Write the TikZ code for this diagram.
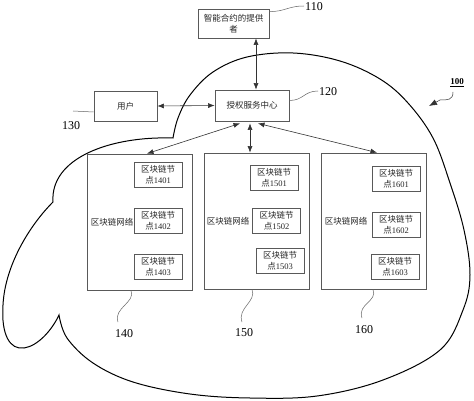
\documentclass[tikz,border=0pt]{standalone}
\usepackage{fontspec}
\setmainfont{Liberation Serif}
\newfontfamily\cjk{Noto Sans CJK SC}
\newcommand\zhs[1]{{\cjk #1}}
\usetikzlibrary{arrows.meta,calc}
\begin{document}
\begin{tikzpicture}[x=1pt,y=-1pt,
  box/.style={draw=black!65, line width=0.8pt, inner sep=0pt, align=center,
    font=\fontsize{8.5}{11}\selectfont, text=black!85},
  netbox/.style={draw=black!65, line width=0.8pt, minimum width=105pt, minimum height=136pt},
  bc/.style={box, minimum width=48pt, minimum height=25pt},
  conn/.style={draw=black!80, line width=0.6pt, {Latex[length=6.5pt,width=5pt]}-{Latex[length=6.5pt,width=5pt]}},
  lead/.style={draw=black!60, line width=0.5pt},
  lbl/.style={font=\fontsize{12}{12}\selectfont, inner sep=0pt},
  cloudline/.style={draw=black, line width=1pt}]
\useasboundingbox (0,0) rectangle (474,401);
\fill[white] (0,0) rectangle (474,401);

% cloud outline
\draw[cloudline] plot[smooth, tension=0.6] coordinates {(59,315) (67,338) (93,363) (133,382) (190,394) (250,398) (317,396) (383,380) (440,350) (463,310) (470,275) (464,230) (450,183) (433,138) (408,103) (380,79) (340,61) (293,53) (247,57) (213,72) (190,95) (178,118) (173,138)}
  .. controls (110,136) and (50,158) .. (53,202)
  .. controls (30,225) and (5,265) .. (3,305)
  .. controls (1,335) and (10,350) .. (24,348)
  .. controls (38,346) and (52,330) .. (59,315) -- cycle;

% top boxes
\node[box, minimum width=71pt, minimum height=29pt] (n110) at (233.5,23.5) {\zhs{智能合约的提供}\\\zhs{者}};
\node[box, minimum width=74pt, minimum height=31pt] (n120) at (252,105.5) {\zhs{授权服务中心}};
\node[box, minimum width=63pt, minimum height=30pt] (n130) at (125.5,106) {\zhs{用户}};

% networks
\node[netbox] (n140) at (139.5,222) {};
\node[netbox] (n150) at (256.5,221) {};
\node[netbox] (n160) at (373.5,221) {};
\node[box, draw=none] (t140) at (112,222) {\zhs{区块链网络}};
\node[box, draw=none] (t150) at (228,221) {\zhs{区块链网络}};
\node[box, draw=none] (t160) at (346,221) {\zhs{区块链网络}};

\node[bc] (n1401) at (158,175) {\zhs{区块链节}\\\zhs{点}1401};
\node[bc] (n1402) at (158,220.5) {\zhs{区块链节}\\\zhs{点}1402};
\node[bc] (n1403) at (158,267) {\zhs{区块链节}\\\zhs{点}1403};
\node[bc] (n1501) at (274,178) {\zhs{区块链节}\\\zhs{点}1501};
\node[bc] (n1502) at (276.5,220.5) {\zhs{区块链节}\\\zhs{点}1502};
\node[bc] (n1503) at (280,260.5) {\zhs{区块链节}\\\zhs{点}1503};
\node[bc] (n1601) at (396,178.5) {\zhs{区块链节}\\\zhs{点}1601};
\node[bc] (n1602) at (396,224.5) {\zhs{区块链节}\\\zhs{点}1602};
\node[bc] (n1603) at (395,267) {\zhs{区块链节}\\\zhs{点}1603};

% connectors
\coordinate (a120) at ([xshift=4pt]n120.north);
\draw[conn] (n110.south -| a120) -- (a120);
\draw[conn] (n130.east) -- (n120.west);
\draw[conn] ([xshift=-12pt,yshift=-2pt]n120.south) -- ([xshift=7.5pt]n140.north);
\draw[conn] ([xshift=-2pt,yshift=-2pt]n120.south) -- ([xshift=-6.5pt]n150.north);
\draw[conn] ([xshift=6pt,yshift=-2pt]n120.south) -- ([xshift=3.5pt]n160.north);

% labels
\node[lbl] (l110) at (314,7) {110};
\node[lbl] (l120) at (328,92) {120};
\node[lbl] (l130) at (71,126) {130};
\node[lbl] (l140) at (124,334) {140};
\node[lbl] (l150) at (244,333) {150};
\node[lbl] (l160) at (364,330) {160};
\node[font=\fontsize{9}{9}\selectfont\bfseries, inner sep=0pt] (l100) at (457,83) {\underline{100}};

% leader lines
\coordinate (e110) at (304,6);
\coordinate (e120) at (318,91);
\coordinate (e130) at (73,111);
\coordinate (e140) at (118,322);
\coordinate (e150) at (242,322);
\coordinate (e160) at (362,318);
\draw[lead] ([yshift=-3pt]n110.north east) .. controls +(16,0) and +(-16,0) .. (e110);
\draw[lead] ([yshift=5pt]n120.east) .. controls +(14,0) and +(-14,0) .. (e120);
\draw[lead] ([yshift=-6pt]n130.west) .. controls +(-10,0) and +(10,0) .. (e130);
\draw[lead] ([xshift=-8.5pt]n140.south) .. controls +(5,12) and +(-5,-14) .. (e140);
\draw[lead] ([xshift=-4.5pt]n150.south) .. controls +(5,12) and +(-5,-14) .. (e150);
\draw[lead] ([xshift=-0.5pt]n160.south) .. controls +(5,12) and +(-5,-14) .. (e160);
\coordinate (s100) at (453,92);
\coordinate (m100) at (440,100);
\coordinate (t100) at (429,106);
\draw[lead, draw=black!80, -{Latex[length=8pt,width=6pt]}] (s100) .. controls +(0,8) and +(8,0) .. (m100) -- (t100);
\end{tikzpicture}
\end{document}
